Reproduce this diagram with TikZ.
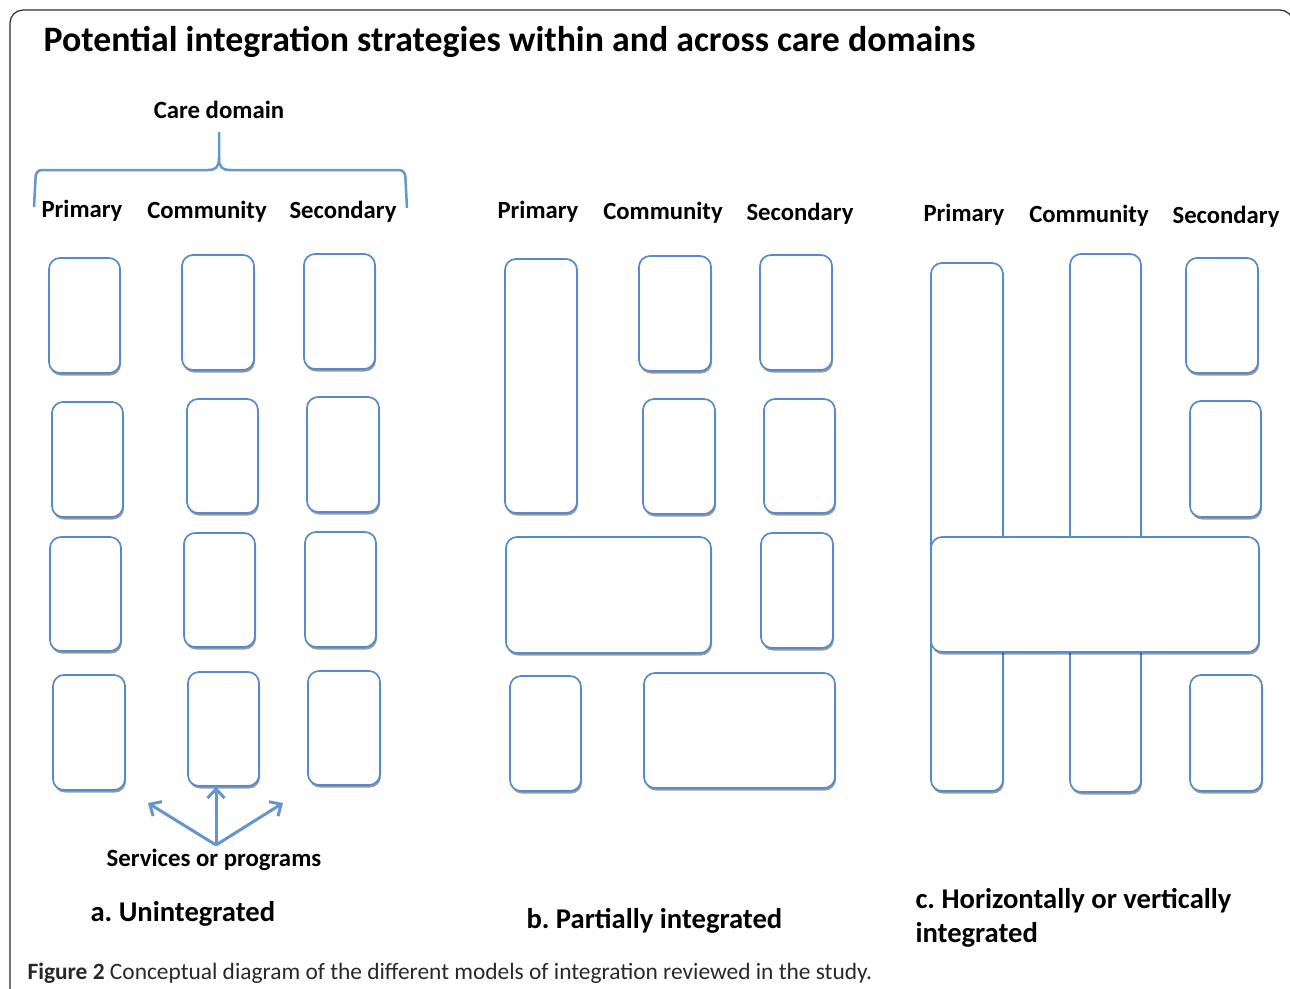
\documentclass[tikz,border=0pt]{standalone}
\usepackage{fontspec}
\setmainfont{Carlito}
\usetikzlibrary{arrows.meta,shadows}
\definecolor{boxblue}{RGB}{86,138,200}
\definecolor{arrblue}{RGB}{100,150,205}
\definecolor{framegray}{RGB}{45,45,45}
\definecolor{capgray}{RGB}{40,40,40}
\frenchspacing
\tikzset{
  svc/.style={draw=boxblue, line width=1.7pt, fill=white, rounded corners=11pt, inner sep=0pt,
    drop shadow={shadow xshift=1pt, shadow yshift=-2.5pt, fill=black, opacity=0.4}},
  domlabel/.style={font=\fontsize{24.7}{28}\selectfont\bfseries},
  modellabel/.style={font=\fontsize{28.6}{34}\selectfont\bfseries, align=left},
  pointer/.style={arrblue, line width=3pt, -{Straight Barb[length=9pt,width=17pt]}},
}
% service box from its corners (x1,y1) (x2,y2), in pixels
\newcommand{\svcbox}[5]{\node[svc, minimum width={#4-#2}, minimum height={#5-#3}] (#1) at ({(#2+#4)/2},{(#3+#5)/2}) {};}
\begin{document}
\begin{tikzpicture}[x=1pt,y=-1pt]
\useasboundingbox (0,0) rectangle (1290,988);
\begin{scope}
\clip (0,0) rectangle (1290,988);
\draw[framegray, line width=1.2pt, rounded corners=13pt] (10,10) rectangle (1293,1010);
\end{scope}

\node[anchor=west, font=\fontsize{35.8}{42}\selectfont\bfseries] (title) at (40,42) {Potential integration strategies within and across care domains};

% a. unintegrated
\node[font=\fontsize{24.8}{28}\selectfont\bfseries] (care) at (219,110) {Care domain};
\draw[arrblue, line width=2.5pt, rounded corners=6pt] (34,207) -- (36,170) -- (208,170);
\draw[arrblue, line width=2.5pt] (208,170) .. controls (216,170) and (219,167) .. (219,158) -- (219,132);
\draw[arrblue, line width=2.5pt] (219,158) .. controls (219,167) and (222,170) .. (230,170);
\draw[arrblue, line width=2.5pt, rounded corners=6pt] (230,170) -- (405,170) -- (407,208);
\node[domlabel] (pa) at (82,211) {Primary};
\node[domlabel] (ca) at (207,212) {Community};
\node[domlabel] (sa) at (343,212) {Secondary};

\svcbox{a11}{49}{258}{120}{373}
\svcbox{a12}{182}{255}{254}{370}
\svcbox{a13}{304}{254}{375}{369}
\svcbox{a21}{52}{402}{123}{517}
\svcbox{a22}{187}{399}{258}{513}
\svcbox{a23}{307}{397}{379}{512}
\svcbox{a31}{50}{537}{121}{651}
\svcbox{a32}{184}{533}{255}{647}
\svcbox{a33}{305}{532}{376}{647}
\svcbox{a41}{53}{675}{125}{790}
\svcbox{a42}{188}{672}{259}{786}
\svcbox{a43}{308}{671}{380}{785}

\node[font=\fontsize{24.8}{28}\selectfont\bfseries] (srv) at (214,860) {Services or programs};
\coordinate (root) at (216,845);
\coordinate (leftend) at (148,803);
\coordinate (rightend) at (283,803);
\draw[pointer] (root) -- (leftend);
\draw[pointer] (root) -- (a42.south -| root);
\draw[pointer] (root) -- (rightend);
\node[modellabel, anchor=west] (la) at (87,914) {a. Unintegrated};

% b. partially integrated
\node[domlabel] (pb) at (538,212) {Primary};
\node[domlabel] (cb) at (663,213) {Community};
\node[domlabel] (sb) at (800,214) {Secondary};
\svcbox{b1}{505}{259}{577}{513}
\svcbox{b12}{639}{256}{711}{371}
\svcbox{b13}{760}{255}{832}{370}
\svcbox{b22}{643}{399}{715}{514}
\svcbox{b23}{764}{399}{835}{513}
\svcbox{b3}{506}{537}{711}{653}
\svcbox{b33}{761}{533}{833}{648}
\svcbox{b41}{510}{676}{581}{791}
\svcbox{b4}{644}{673}{835}{788}
\node[modellabel, anchor=west] (lb) at (523,921) {b. Partially integrated};

% c. horizontally or vertically integrated
\node[domlabel] (pc) at (964,215) {Primary};
\node[domlabel] (cc) at (1089,216) {Community};
\node[domlabel] (sc) at (1226,217) {Secondary};
\svcbox{c1}{931}{263}{1003}{791}
\svcbox{c2}{1070}{254}{1141}{792}
\svcbox{c13}{1186}{258}{1258}{373}
\svcbox{c23}{1190}{401}{1261}{517}
\svcbox{c3}{931}{537}{1259}{652}
\svcbox{c43}{1190}{675}{1262}{791}
\node[modellabel, anchor=north west] (lc) at (912,885) {c. Horizontally or vertically\\integrated};

\node[anchor=west, font=\fontsize{23.4}{28}\selectfont, text=capgray] (caption) at (24,973) {\textbf{Figure 2} Conceptual diagram of the different models of integration reviewed in the study.};
\end{tikzpicture}
\end{document}
